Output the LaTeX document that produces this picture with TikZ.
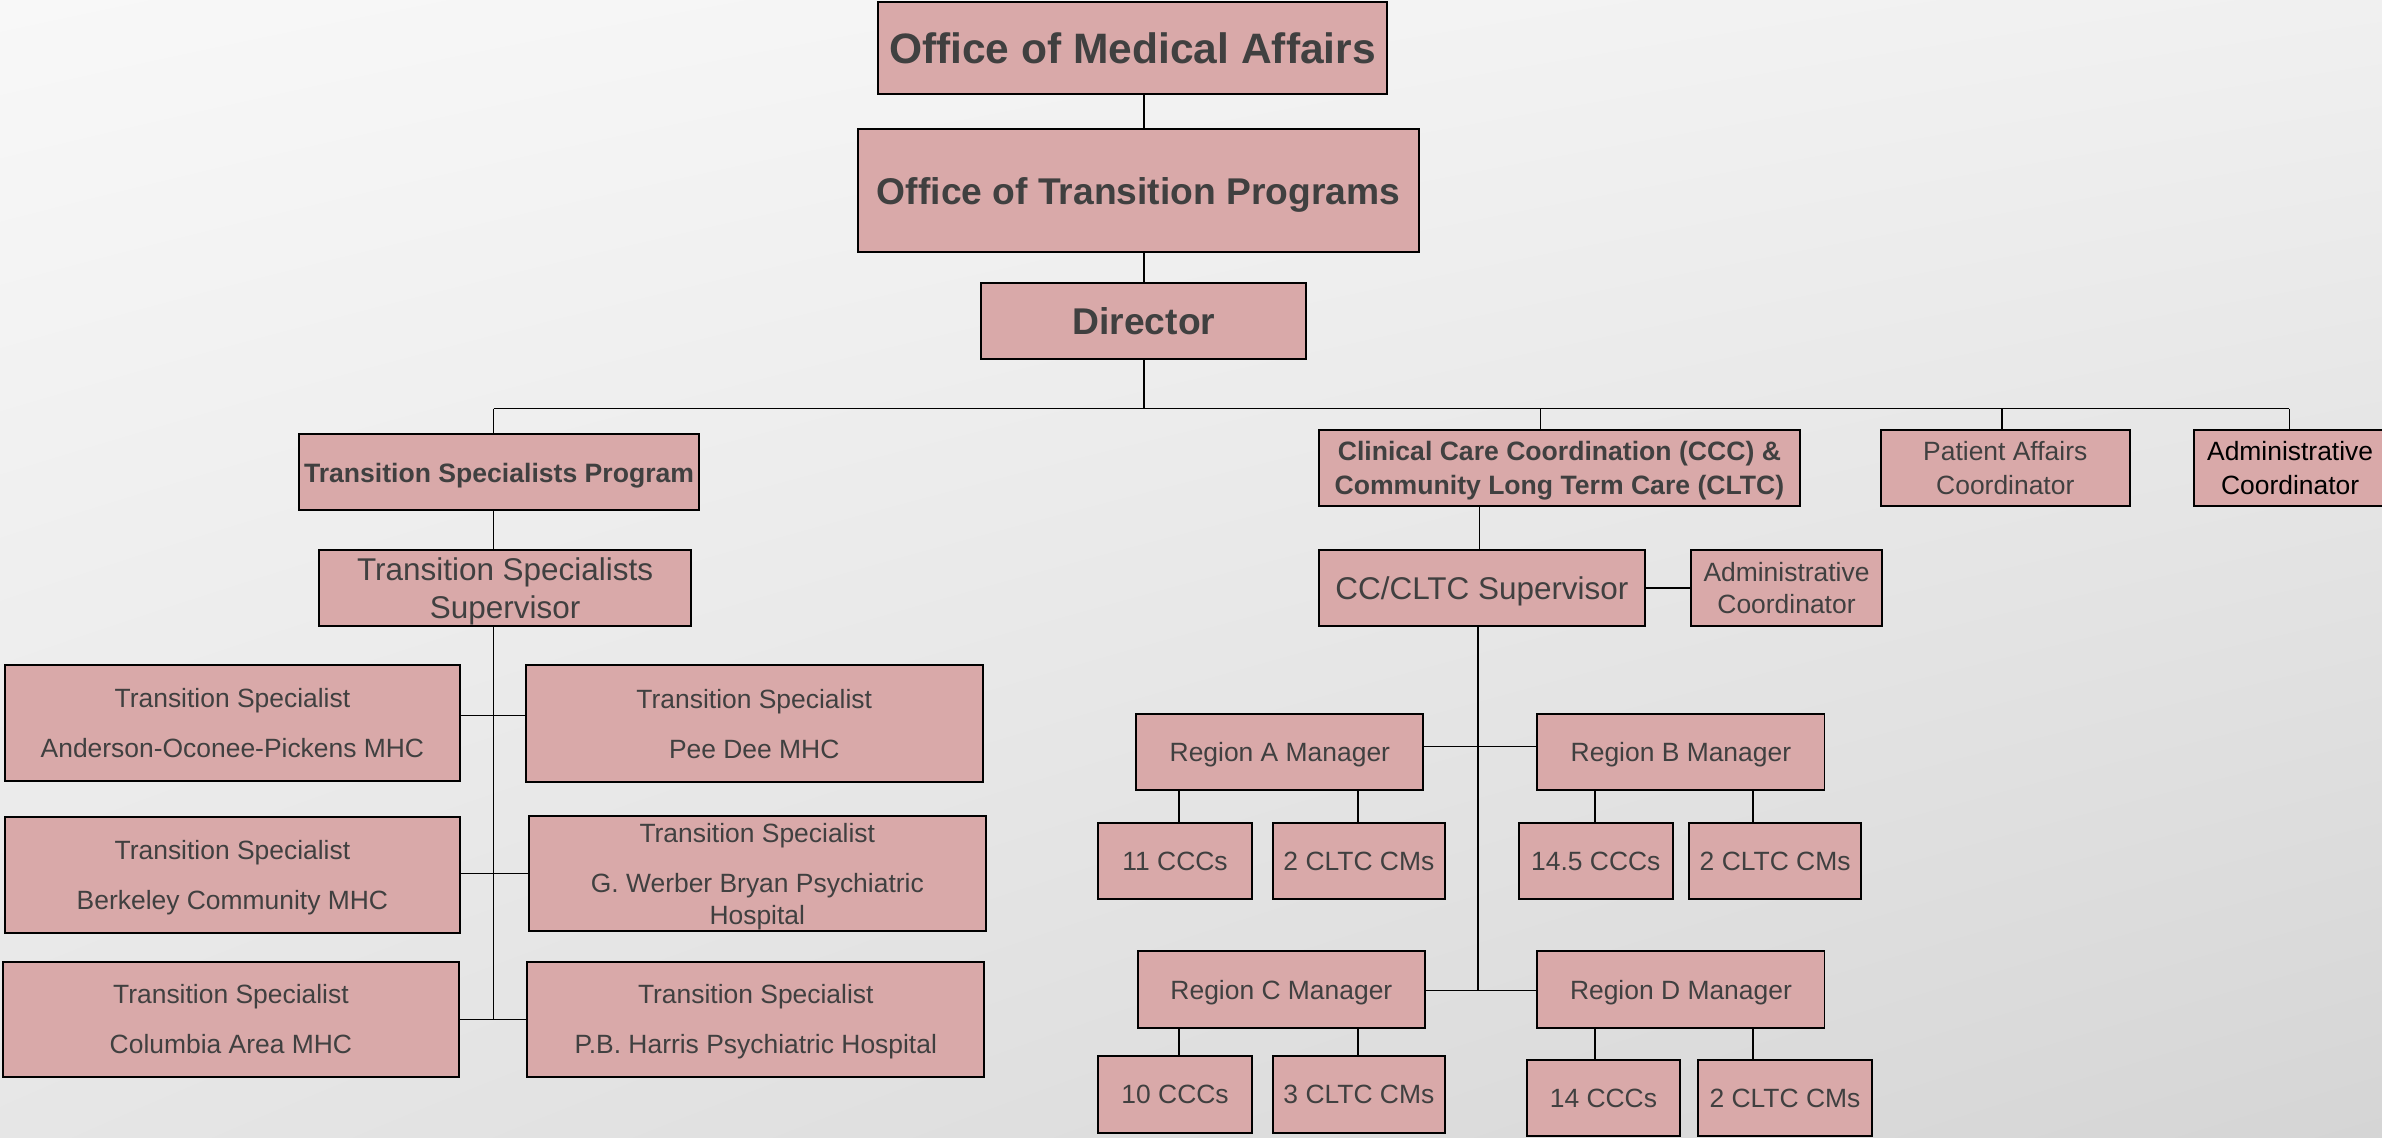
\documentclass[tikz,border=0pt]{standalone}
\usepackage{fontspec}
\setmainfont{Liberation Sans}
\usetikzlibrary{shadings}
\definecolor{boxfill}{RGB}{217,169,169}
\definecolor{txt}{RGB}{64,64,64}
\definecolor{bgA}{RGB}{248,248,248}
\definecolor{bgB}{RGB}{240,240,240}
\definecolor{bgC}{RGB}{230,230,230}
\definecolor{bgD}{RGB}{213,213,213}
\tikzset{
  box/.style={draw=black, line width=1.3pt, fill=boxfill, inner sep=0pt, align=center, text=txt, text depth=0pt},
  reg/.style={box, font=\fontsize{17.4}{21}\selectfont},
  regb/.style={box, font=\fontsize{17.5}{22}\selectfont\bfseries},
  big/.style={box, font=\fontsize{20.7}{25}\selectfont},
  conn/.style={draw=black, line width=1pt},
}
\begin{document}
\begin{tikzpicture}[x=1pt, y=-1pt]
\shade[upper left=bgA, upper right=bgB, lower left=bgC, lower right=bgD] (0,0) rectangle (1568,749);
\useasboundingbox (0,0) rectangle (1568,749);

% top chain
\node[box, minimum width=335, minimum height=61, font=\fontsize{28}{32}\selectfont\bfseries] (oma) at (745.5,31.5) {Office of Medical Affairs};
\node[box, minimum width=369, minimum height=81, font=\fontsize{24.5}{29}\selectfont\bfseries] (otp) at (749.5,125.5) {Office of Transition Programs};
\node[box, minimum width=214, minimum height=50, font=\fontsize{24.5}{29}\selectfont\bfseries] (dir) at (753,211) {Director};

\coordinate (bus) at (753,269);
\coordinate (busL) at (325,269);
\coordinate (busC) at (1014,269);
\coordinate (busP) at (1318,269);
\coordinate (busA) at (1507,269);

% second level
\node[regb, minimum width=263, minimum height=50] (tsp) at (328.5,311) {Transition Specialists Program};
\node[regb, minimum width=317, minimum height=50] (ccc) at (1026.5,308) {Clinical Care Coordination (CCC) \&\\Community Long Term Care (CLTC)};
\node[box, minimum width=164, minimum height=50, font=\fontsize{17.4}{22}\selectfont] (pac) at (1320,308) {Patient Affairs\\Coordinator};
\node[box, text=black, minimum width=126, minimum height=50, font=\fontsize{17.4}{22}\selectfont] (adm) at (1507.5,308) {Administrative\\Coordinator};

% left branch
\node[big, minimum width=245, minimum height=50] (tss) at (332.5,387) {Transition Specialists\\Supervisor};
\node[reg, minimum width=300, minimum height=76] (aop) at (153,476) {Transition Specialist\\[12pt]Anderson-Oconee-Pickens MHC};
\node[reg, minimum width=301, minimum height=77] (pdm) at (496.5,476.5) {Transition Specialist\\[12pt]Pee Dee MHC};
\node[reg, minimum width=300, minimum height=76] (bcm) at (153,576) {Transition Specialist\\[12pt]Berkeley Community MHC};
\node[reg, minimum width=301, minimum height=76] (gwb) at (498.5,575) {Transition Specialist\\[12pt]G. Werber Bryan Psychiatric\\Hospital};
\node[reg, minimum width=300, minimum height=76] (cam) at (152,671) {Transition Specialist\\[12pt]Columbia Area MHC};
\node[reg, minimum width=301, minimum height=76] (pbh) at (497.5,671) {Transition Specialist\\[12pt]P.B. Harris Psychiatric Hospital};

\coordinate (ls1) at (325,471);
\coordinate (ls2) at (325,575);
\coordinate (ls3) at (325,671);

% right branch
\node[big, minimum width=215, minimum height=50] (sup) at (975.5,387) {CC/CLTC Supervisor};
\node[box, minimum width=126, minimum height=50, font=\fontsize{17.4}{21}\selectfont] (adm2) at (1176,387) {Administrative\\Coordinator};

\node[reg, minimum width=189, minimum height=50] (ra) at (842.5,495) {Region A Manager};
\node[reg, minimum width=189, minimum height=50] (rb) at (1106.5,495) {Region B Manager};
\node[reg, minimum width=189, minimum height=51] (rc) at (843.5,651.5) {Region C Manager};
\node[reg, minimum width=189, minimum height=51] (rd) at (1106.5,651.5) {Region D Manager};

\node[reg, minimum width=101, minimum height=50] (a1) at (773.5,567) {11 CCCs};
\node[reg, minimum width=113, minimum height=50] (a2) at (894.5,567) {2 CLTC CMs};
\node[reg, minimum width=101, minimum height=50] (b1) at (1050.5,567) {14.5 CCCs};
\node[reg, minimum width=113, minimum height=50] (b2) at (1168.5,567) {2 CLTC CMs};
\node[reg, minimum width=101, minimum height=51] (c1) at (773.5,720.5) {10 CCCs};
\node[reg, minimum width=113, minimum height=51] (c2) at (894.5,720.5) {3 CLTC CMs};
\node[reg, minimum width=101, minimum height=50] (d1) at (1055.5,723) {14 CCCs};
\node[reg, minimum width=114, minimum height=50] (d2) at (1175,723) {2 CLTC CMs};

\coordinate (rs1) at (973,491.5);
\coordinate (rs2) at (973,652);
\coordinate (xa1) at (776,0);
\coordinate (xa2) at (894,0);
\coordinate (xb1) at (1050,0);
\coordinate (xb2) at (1154,0);
\coordinate (xccc) at (974,0);

% connectors
\draw[conn] (dir.north |- oma.south) -- (dir.north |- otp.north);
\draw[conn] (dir.north |- otp.south) -- (dir.north);
\draw[conn] (dir.south) -- (bus);
\draw[conn] (busL) -- (busA);
\draw[conn] (busL) -- (tsp.north -| busL);
\draw[conn] (busC) -- (ccc.north -| busC);
\draw[conn] (busP) -- (pac.north -| busP);
\draw[conn] (busA) -- (adm.north -| busA);

\draw[conn] (tsp.south -| busL) -- (tss.north -| busL);
\draw[conn] (tss.south -| busL) -- (ls3);
\draw[conn] (aop.east |- ls1) -- (pdm.west |- ls1);
\draw[conn] (bcm.east |- ls2) -- (gwb.west |- ls2);
\draw[conn] (cam.east |- ls3) -- (pbh.west |- ls3);

\draw[conn] (ccc.south -| xccc) -- (sup.north -| xccc);
\draw[conn] (sup.east) -- (adm2.west);
\draw[conn] (sup.south -| rs1) -- (rs2);
\draw[conn] (ra.east |- rs1) -- (rb.west |- rs1);
\draw[conn] (rc.east |- rs2) -- (rd.west |- rs2);

\draw[conn] (ra.south -| xa1) -- (a1.north -| xa1);
\draw[conn] (ra.south -| xa2) -- (a2.north -| xa2);
\draw[conn] (rb.south -| xb1) -- (b1.north -| xb1);
\draw[conn] (rb.south -| xb2) -- (b2.north -| xb2);
\draw[conn] (rc.south -| xa1) -- (c1.north -| xa1);
\draw[conn] (rc.south -| xa2) -- (c2.north -| xa2);
\draw[conn] (rd.south -| xb1) -- (d1.north -| xb1);
\draw[conn] (rd.south -| xb2) -- (d2.north -| xb2);
\end{tikzpicture}
\end{document}
